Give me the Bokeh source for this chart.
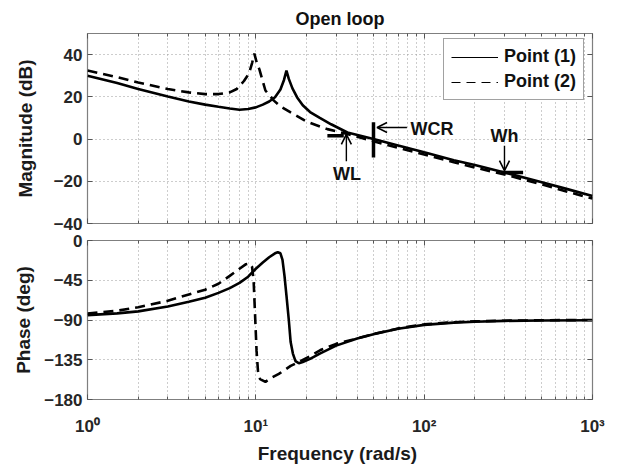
from bokeh.plotting import figure
from bokeh.layouts import column
from bokeh.models import (FixedTicker, Legend, LegendItem, Arrow, OpenHead, Label,
                          Range1d, LinearAxis, LogAxis)
from bokeh.embed import file_html
from bokeh.resources import INLINE

# ---------------- data ----------------
freq_mag_1 = [1, 1.5, 2, 3, 4, 5, 6, 7, 8, 9, 10, 11, 12, 13, 14, 14.7, 15.2, 15.7,
              16.5, 17.6, 19, 21, 24, 28, 35, 50, 70, 100, 150, 200, 300, 500, 700, 1000]
mag_1 = [30, 26.5, 23.7, 20.2, 17.8, 16.3, 15.3, 14.5, 13.9, 14.2, 15.0, 16.3, 17.8, 19.8,
         23.5, 28, 32.4, 28.5, 24, 19.7, 16, 12.8, 10, 7, 3.1, 0, -3, -6.3, -10, -12.3,
         -15.8, -20.5, -23.6, -27]

freq_mag_2 = [1, 1.5, 2, 3, 4, 5, 6, 7, 7.7, 8.5, 9.1, 9.5, 9.8, 10.1, 10.5, 11.4, 12.8,
              14, 16.1, 20, 26.6, 35, 50, 70, 100, 150, 200, 300, 500, 700, 1000]
mag_2 = [32.5, 29.3, 26.8, 23.7, 22.1, 21.3, 21.3, 22.1, 23.7, 27.5, 31, 36, 40.5, 36.5,
         33, 23, 18.2, 15.5, 12.6, 8.3, 4.7, 2.4, -1, -4.2, -7.3, -11, -13.5, -16.8,
         -21.5, -24.8, -28.2]

freq_ph_1 = [1, 1.5, 2, 3, 4, 5, 6, 7, 8, 9, 10, 11, 12, 13, 13.5, 14, 14.4, 14.8, 15.2,
             15.7, 16.1, 16.6, 17.2, 18, 19, 21, 24, 30, 40, 50, 70, 100, 150, 200, 300,
             500, 1000]
phase_1 = [-84.5, -82.5, -80.2, -74.8, -69.4, -64.7, -59.3, -53.9, -48, -41, -32, -25,
           -19, -14.5, -13.3, -14.5, -22, -40, -62, -90, -115, -128, -136.5, -139,
           -137.5, -134, -128, -119, -111, -106, -100, -95.5, -93, -92, -91, -90.5, -90.3]

freq_ph_2 = [1, 1.5, 2, 3, 4, 5, 6, 7, 8, 8.7, 9.2, 9.5, 9.7, 9.9, 10.1, 10.3, 10.6,
             11.4, 12.5, 13.7, 15, 16.1, 18.4, 21, 24.2, 30, 38, 50, 70, 100, 150, 200,
             300, 500, 1000]
phase_2 = [-82.7, -79.5, -75.5, -68.3, -61.1, -55.7, -49, -40, -32, -27, -26, -30, -45,
           -85, -125, -148, -157, -160, -155, -151, -146, -142, -136.6, -131, -124, -117,
           -112, -106, -99.5, -95, -92.5, -91.5, -90.8, -90.3, -90]

series_labels = ["Point (1)", "Point (2)"]
x_ticks = [1, 10, 100, 1000]
x_tick_labels = ["10\u2070", "10\u00b9", "10\u00b2", "10\u00b3"]
mag_ticks = [-40, -20, 0, 20, 40]
phase_ticks = [-180, -135, -90, -45, 0]

# marker frequencies / levels (annotations)
WL_freq = 30
WL_level = 1.6
WCR_freq = 50
Wh_freq = 300
Wh_level = -15.8

# ---------------- styling ----------------
FONT = "Liberation Sans"
minor = [m * d for d in (1, 10, 100) for m in range(2, 10)]
grid_col = "#9a9a9a"
DASH = "10 6"
TICK_COL = "#555555"


def fmt(v):
    return str(v).replace("-", "\u2212")


def style(p, yticks, show_x_labels, ylabel, ylabel_standoff, xlabel=None):
    p.outline_line_color = "#7f7f7f"
    p.outline_line_width = 1.2
    xt = FixedTicker(ticks=x_ticks, minor_ticks=minor)
    yt = FixedTicker(ticks=yticks)
    xa = p.below[0]
    xa.ticker = xt
    ya = p.left[0]
    ya.ticker = yt
    p.xgrid.ticker = xt
    p.ygrid.ticker = yt
    for g in (p.xgrid, p.ygrid):
        g.grid_line_color = grid_col
        g.grid_line_dash = "1 3"
        g.grid_line_width = 1
    p.xgrid.minor_grid_line_color = grid_col
    p.xgrid.minor_grid_line_dash = "1 3"
    p.xgrid.minor_grid_line_width = 1
    for ax in (xa, ya):
        ax.axis_line_color = None
        ax.major_tick_in = 5
        ax.major_tick_out = 0
        ax.minor_tick_in = 3
        ax.minor_tick_out = 0
        ax.major_tick_line_color = TICK_COL
        ax.minor_tick_line_color = TICK_COL
        ax.major_label_text_font = FONT
        ax.major_label_text_font_style = "bold"
        ax.major_label_text_font_size = "17px"
        ax.major_label_text_color = "#262626"
        ax.axis_label_text_font = FONT
        ax.axis_label_text_font_style = "bold"
        ax.axis_label_text_font_size = "19px"
        ax.axis_label_text_color = "#1a1a1a"
    ya.axis_label = ylabel
    ya.major_label_overrides = {v: fmt(v) for v in yticks}
    ya.major_label_standoff = 5
    ya.axis_label_standoff = ylabel_standoff
    if show_x_labels:
        xa.axis_label = xlabel
        xa.major_label_overrides = dict(zip(x_ticks, x_tick_labels))
        xa.major_label_standoff = 17
        xa.axis_label_standoff = 4
    else:
        xa.major_label_text_font_size = "1px"
        xa.major_label_text_color = None
        xa.major_label_standoff = 0
    # right-side and top inner ticks (boxed axes)
    ra = LinearAxis(ticker=FixedTicker(ticks=yticks), major_label_text_font_size="1px",
                    major_label_text_color=None,
                    axis_line_color=None, major_tick_in=5, major_tick_out=0,
                    minor_tick_line_color=None, major_tick_line_color=TICK_COL,
                    major_label_standoff=0)
    p.add_layout(ra, "right")
    ta = LogAxis(ticker=FixedTicker(ticks=x_ticks, minor_ticks=minor),
                 major_label_text_font_size="1px", major_label_text_color=None,
                 axis_line_color=None, major_tick_in=5, major_tick_out=0,
                 minor_tick_in=3, minor_tick_out=0,
                 minor_tick_line_color=TICK_COL, major_tick_line_color=TICK_COL,
                 major_label_standoff=0)
    p.add_layout(ta, "above")


# ---------------- magnitude ----------------
p1 = figure(width=608, height=232, x_axis_type="log",
            x_range=Range1d(1, 1000), y_range=Range1d(-40, 50),
            output_backend="svg", toolbar_location=None,
            min_border_left=87, min_border_right=16, min_border_top=33, min_border_bottom=9)
p1.title.text = "Open loop"
p1.title.align = "center"
p1.title.text_font = FONT
p1.title.text_font_size = "18px"
p1.title.text_font_style = "bold"
p1.title.text_color = "#111111"
style(p1, mag_ticks, False, "Magnitude (dB)", 15)

p1.line(freq_mag_1, mag_1, line_color="black", line_width=2.6)
p1.line(freq_mag_2, mag_2, line_color="black", line_width=2.6, line_dash=DASH)

# legend-only renderers (thin lines)
r_leg1 = p1.line([1], [-100], line_color="black", line_width=1.2)
r_leg2 = p1.line([1], [-100], line_color="black", line_width=1.2, line_dash="9 6")
legend = Legend(items=[LegendItem(label=series_labels[0], renderers=[r_leg1]),
                       LegendItem(label=series_labels[1], renderers=[r_leg2])],
                location=(356, 123), label_text_font=FONT, label_text_font_size="18px",
                label_text_font_style="bold", label_text_color="#111111",
                glyph_width=47, glyph_height=20, label_height=20, label_standoff=6,
                padding=7, spacing=4, margin=0,
                border_line_color="#444444", border_line_width=1,
                background_fill_color="white", background_fill_alpha=1)
p1.add_layout(legend, "center")

# markers
mk_w = 3.5
p1.line([WL_freq * 0.887, WL_freq * 1.11], [WL_level, WL_level], line_color="black", line_width=mk_w)
p1.line([WCR_freq, WCR_freq], [8, -8.7], line_color="black", line_width=mk_w)
p1.line([Wh_freq * 0.955, Wh_freq * 1.29], [Wh_level, Wh_level], line_color="black", line_width=mk_w)

head = dict(size=10, line_width=1.6, line_color="black")
p1.add_layout(Arrow(end=OpenHead(**head), x_start=WL_freq * 1.15, y_start=-10.5,
                    x_end=WL_freq * 1.15, y_end=2.2, line_width=1.4, line_color="black"))
p1.add_layout(Arrow(end=OpenHead(**head), x_start=WCR_freq * 1.58, y_start=5.5,
                    x_end=WCR_freq * 1.05, y_end=5.5, line_width=1.4, line_color="black"))
p1.add_layout(Arrow(end=OpenHead(**head), x_start=Wh_freq, y_start=-3.2,
                    x_end=Wh_freq, y_end=-15, line_width=1.4, line_color="black"))

lab = dict(text_font=FONT, text_font_size="18px", text_font_style="bold",
           text_color="#111111", text_baseline="middle")
p1.add_layout(Label(x=WL_freq * 1.16, y=-16.6, text="WL", text_align="center", **lab))
p1.add_layout(Label(x=WCR_freq * 1.66, y=4.7, text="WCR", text_align="left", **lab))
p1.add_layout(Label(x=Wh_freq, y=1.6, text="Wh", text_align="center", **lab))

# ---------------- phase ----------------
p2 = figure(width=608, height=234, x_axis_type="log",
            x_range=Range1d(1, 1000), y_range=Range1d(-180, 0),
            output_backend="svg", toolbar_location=None,
            min_border_left=87, min_border_right=16, min_border_top=8, min_border_bottom=0)
style(p2, phase_ticks, True, "Phase (deg)", 7, "Frequency  (rad/s)")

p2.line(freq_ph_1, phase_1, line_color="black", line_width=2.6)
p2.line(freq_ph_2, phase_2, line_color="black", line_width=2.6, line_dash=DASH)

layout = column(p1, p2, spacing=0)
open("out.html", "w").write(file_html(layout, INLINE))
